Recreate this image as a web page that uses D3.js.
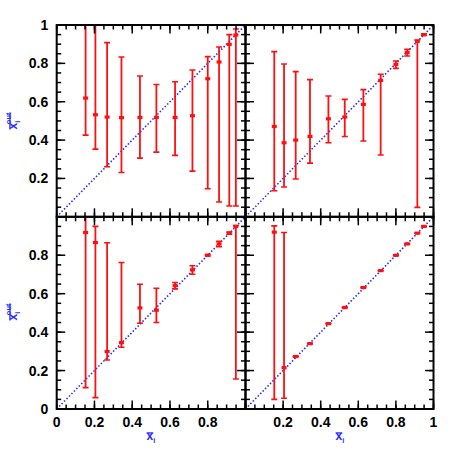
<!DOCTYPE html>
<html><head><meta charset="utf-8">
<script src="https://cdn.jsdelivr.net/npm/d3@7"></script>
<style>body{margin:0;background:#fff}svg{display:block}</style>
</head><body>
<script>
// ---- data ----
const xVals = [0.153, 0.205, 0.267, 0.343, 0.441, 0.528, 0.627, 0.719, 0.800, 0.860, 0.914, 0.949];

const tlMid = [0.619, 0.532, 0.520, 0.517, 0.518, 0.518, 0.518, 0.527, 0.720, 0.807, 0.899, 0.948];
const tlLo  = [0.426, 0.353, 0.261, 0.231, 0.306, 0.337, 0.320, 0.238, 0.146, 0.077, 0.056, 0.056];
const tlHi  = [1.05, 1.05, 0.908, 0.833, 0.734, 0.690, 0.704, 0.765, 0.835, 0.885, 0.950, 0.979];

const trMid = [0.471, 0.386, 0.400, 0.419, 0.511, 0.520, 0.586, 0.711, 0.795, 0.856, 0.915, 0.950];
const trLo  = [0.136, 0.155, 0.197, 0.280, 0.386, 0.419, 0.395, 0.322, 0.774, 0.838, 0.049, 0.946];
const trHi  = [0.861, 0.797, 0.757, 0.715, 0.630, 0.612, 0.663, 0.743, 0.812, 0.873, 0.922, 0.954];

const blMid = [0.918, 0.866, 0.299, 0.345, 0.526, 0.514, 0.642, 0.724, 0.800, 0.859, 0.915, 0.950];
const blLo  = [0.111, 0.059, 0.255, 0.321, 0.446, 0.450, 0.625, 0.701, 0.796, 0.845, 0.909, 0.156];
const blHi  = [1.05, 0.950, 0.865, 0.762, 0.649, 0.628, 0.658, 0.745, 0.804, 0.872, 0.921, 0.955];

const brMid = [0.920, 0.215, 0.273, 0.340, 0.444, 0.528, 0.632, 0.720, 0.800, 0.859, 0.915, 0.950];
const brLo  = [0.050, 0.056, 0.271, 0.338, 0.442, 0.526, 0.630, 0.718, 0.798, 0.857, 0.913, 0.948];
const brHi  = [0.953, 0.918, 0.275, 0.342, 0.446, 0.530, 0.634, 0.722, 0.802, 0.861, 0.917, 0.952];

const tlYTicks = ["0.2", "0.4", "0.6", "0.8", "1"];
const blYTicks = ["0", "0.2", "0.4", "0.6", "0.8"];
const blXTicks = ["0", "0.2", "0.4", "0.6", "0.8"];
const brXTicks = ["0.2", "0.4", "0.6", "0.8", "1"];

// ---- layout ----
const W = 458, H = 458;
const X0 = 56.7, XM = 245.5, X1 = 433.5;
const Y0 = 25, YM = 216.8, Y1 = 409;

const svg = d3.select("body").append("svg").attr("width", W).attr("height", H);

const red = "#ff1010";
const blue = "#2b2bff";

const panels = [
  {id: "tl", x: [X0, XM], y: [YM, Y0], mid: tlMid, lo: tlLo, hi: tlHi, yLab: tlYTicks, xLab: null},
  {id: "tr", x: [XM, X1], y: [YM, Y0], mid: trMid, lo: trLo, hi: trHi, yLab: null, xLab: null},
  {id: "bl", x: [X0, XM], y: [Y1, YM], mid: blMid, lo: blLo, hi: blHi, yLab: blYTicks, xLab: blXTicks},
  {id: "br", x: [XM, X1], y: [Y1, YM], mid: brMid, lo: brLo, hi: brHi, yLab: null, xLab: brXTicks}
];

const major = d3.range(0, 1.0001, 0.2);
const minor = d3.range(0, 1.0001, 0.05);
const font = "'Liberation Sans', Arial, Helvetica, sans-serif";

panels.forEach(p => {
  const xs = d3.scaleLinear().domain([0, 1]).range(p.x);
  const ys = d3.scaleLinear().domain([0, 1]).range(p.y);
  const g = svg.append("g");

  const clipId = "clip-" + p.id;
  svg.append("clipPath").attr("id", clipId).append("rect")
    .attr("x", p.x[0]).attr("y", p.y[1]).attr("width", p.x[1] - p.x[0]).attr("height", p.y[0] - p.y[1]);

  const inner = g.append("g").attr("clip-path", `url(#${clipId})`);

  inner.append("line")
    .attr("x1", xs(0)).attr("y1", ys(0)).attr("x2", xs(1)).attr("y2", ys(1))
    .attr("stroke", blue).attr("stroke-width", 1.6).attr("stroke-dasharray", "1.5,2");

  const data = xVals.map((x, i) => ({x, m: p.mid[i], lo: p.lo[i], hi: p.hi[i]}));

  inner.selectAll(".eb").data(data).enter().append("line")
    .attr("x1", d => xs(d.x)).attr("x2", d => xs(d.x))
    .attr("y1", d => ys(d.lo)).attr("y2", d => ys(d.hi))
    .attr("stroke", red).attr("stroke-width", 1.8);
  ["lo", "hi"].forEach(k => {
    inner.selectAll(".cap" + k).data(data).enter().append("line")
      .attr("x1", d => xs(d.x) - 3).attr("x2", d => xs(d.x) + 3)
      .attr("y1", d => ys(d[k])).attr("y2", d => ys(d[k]))
      .attr("stroke", red).attr("stroke-width", 1.6);
  });
  inner.selectAll(".pt").data(data).enter().append("rect")
    .attr("x", d => xs(d.x) - 2.5).attr("y", d => ys(d.m) - 1.6)
    .attr("width", 5).attr("height", 3.2).attr("fill", red);

  const tk = g.append("g").attr("stroke", "#000").attr("stroke-width", 1.5);
  const drawTicks = (vals, len) => {
    vals.forEach(v => {
      tk.append("line").attr("x1", xs(v)).attr("x2", xs(v)).attr("y1", ys(0)).attr("y2", ys(0) - len);
      tk.append("line").attr("x1", xs(v)).attr("x2", xs(v)).attr("y1", ys(1)).attr("y2", ys(1) + len);
      tk.append("line").attr("y1", ys(v)).attr("y2", ys(v)).attr("x1", xs(0)).attr("x2", xs(0) + len);
      tk.append("line").attr("y1", ys(v)).attr("y2", ys(v)).attr("x1", xs(1)).attr("x2", xs(1) - len);
    });
  };
  drawTicks(minor, 4.5);
  drawTicks(major, 8.5);

  g.append("rect").attr("x", p.x[0]).attr("y", p.y[1])
    .attr("width", p.x[1] - p.x[0]).attr("height", p.y[0] - p.y[1])
    .attr("fill", "none").attr("stroke", "#000").attr("stroke-width", 2);

  if (p.yLab) {
    g.selectAll(".yl").data(p.yLab).enter().append("text")
      .attr("x", xs(0) - 8.5).attr("y", d => ys(+d)).attr("dy", "0.36em")
      .attr("text-anchor", "end").attr("font-family", font).attr("font-weight", "bold")
      .attr("font-size", 14).attr("fill", "#000").text(d => d);
  }
  if (p.xLab) {
    g.selectAll(".xl").data(p.xLab).enter().append("text")
      .attr("x", d => xs(+d)).attr("y", ys(0) + 18)
      .attr("text-anchor", "middle").attr("font-family", font).attr("font-weight", "bold")
      .attr("font-size", 14).attr("fill", "#000").text(d => d);
  }
});

// axis titles: x-bar with subscript i (and optional superscript "out")
function barTitle(cx, cy, rot, withOut) {
  const g = svg.append("g").attr("transform", `translate(${cx},${cy}) rotate(${rot})`);
  const t = g.append("text").attr("x", 0).attr("y", 0).attr("text-anchor", "middle")
    .attr("font-family", font).attr("font-weight", "bold").attr("font-size", 12).attr("fill", blue);
  t.append("tspan").text("x");
  t.append("tspan").attr("dy", 2.5).attr("font-size", 7.5).text("i");
  if (withOut) t.append("tspan").attr("dx", -3.5).attr("dy", -9).attr("font-size", 7.5).text("out");
  const node = t.node();
  const e = node.getExtentOfChar(0);
  const ly = e.y + e.height * 0.28;
  let x2 = e.x + e.width;
  if (withOut) {
    const n = node.getNumberOfChars();
    const last = node.getExtentOfChar(n - 1);
    x2 = last.x + last.width;
  }
  g.append("line").attr("x1", e.x).attr("x2", x2).attr("y1", ly).attr("y2", ly)
    .attr("stroke", blue).attr("stroke-width", 1.3);
}
barTitle(151, 440, 0, false);
barTitle(340, 440, 0, false);
barTitle(17, 121, -90, true);
barTitle(17, 312, -90, true);
</script>
</body></html>
